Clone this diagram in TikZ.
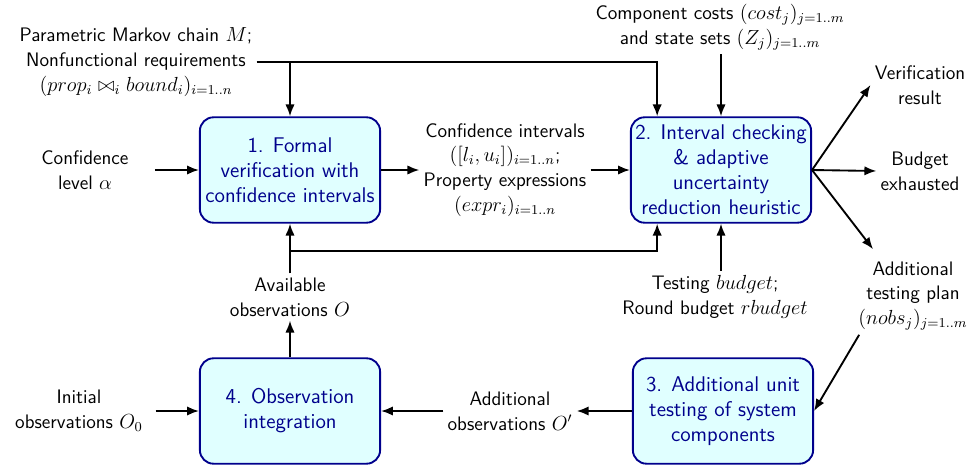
\documentclass[tikz,border=0pt]{standalone}
\usetikzlibrary{arrows.meta}
\definecolor{stagefill}{RGB}{224,255,255}
\definecolor{stagedraw}{RGB}{0,0,140}
\begin{document}
\begin{tikzpicture}
    [x=0.5882pt, y=-0.5882pt, line width=1.1pt,
    >={Latex[length=7pt,width=5.5pt]},
    stage/.style={draw=stagedraw, fill=stagefill, text=stagedraw,
      rounded corners=8pt, minimum width=106pt, minimum height=62pt,
      inner sep=1.5pt, align=center,
      font=\sffamily\fontsize{12.5}{14.7}\selectfont},
    txt/.style={align=center, inner sep=2pt,
      font=\sffamily\fontsize{11.5}{14.6}\selectfont}]
    \useasboundingbox (0,0) rectangle (968,470);
    % the four stages
    \node[stage] (box1) at (290,170) {1. Formal\\ verification with\\ confidence intervals};
    \node[stage] (box2) at (721,170) {2. Interval checking\\ \& adaptive\\ uncertainty\\ reduction heuristic};
    \node[stage] (box3) at (723,411) {3. Additional unit\\ testing of system\\ components};
    \node[stage] (box4) at (290,411) {4. Observation\\ integration};
    % inputs and outputs
    \node[txt] (model) at (136,62) {Parametric Markov chain $M$;\\ Nonfunctional requirements\\ $(prop_i \bowtie_i bound_i)_{i=1..n}$};
    \node[txt] (conf) at (85,170) {Confidence\\ level $\alpha$};
    \node[txt] (mid) at (505,170) {Confidence intervals\\ $([l_i,u_i])_{i=1..n}$;\\ Property expressions\\ $(expr_i)_{i=1..n}$};
    \node[txt] (costs) at (720,27) {Component costs $(cost_j)_{j=1..m}$\\ and state sets $(Z_j)_{j=1..m}$};
    \node[txt] (verif) at (920,85) {Verification\\ result};
    \node[txt] (exhaust) at (920,171) {Budget\\ exhausted};
    \node[txt] (plan) at (913,296) {Additional\\ testing plan\\ $(nobs_j)_{j=1..m}$};
    \node[txt] (tbudget) at (715,297) {Testing $budget$;\\ Round budget $rbudget$};
    \node[txt] (avail) at (290,297) {Available\\ observations $O$};
    \node[txt] (addobs) at (510,411) {Additional\\ observations $O'$};
    \node[txt] (init) at (79,411) {Initial\\ observations $O_0$};
    \coordinate (fb) at (290,251);
    % connectors
    \draw[->] (model.east) -| ([xshift=16pt]box2.north west);
    \draw[->] (model.east -| box1) -- (box1);
    \draw[->, shorten <=13pt] (conf) -- (box1);
    \draw[->] (box1) -- (mid);
    \draw[->] (mid) -- (box2);
    \draw[->] (costs.south -| box2) -- (box2);
    \draw[->] (box2.east) -- (verif.west);
    \draw[->] (box2.east) -- (exhaust.west);
    \draw[->] (box2.east) -- ([shift={(19,-8)}]plan.north west);
    \draw[->] ([xshift=3pt]plan.south west) -- (box3.east);
    \draw[->] (tbudget.north -| box2) -- (box2);
    \draw[->] (box3) -- (addobs);
    \draw[->] (addobs) -- (box4);
    \draw[->, shorten <=5pt] (init) -- (box4);
    \draw[->] (box4) -- (avail);
    \draw[->] (avail) -- (box1);
    \draw[->] (fb) -| ([xshift=16pt]box2.south west);
\end{tikzpicture}
\end{document}
